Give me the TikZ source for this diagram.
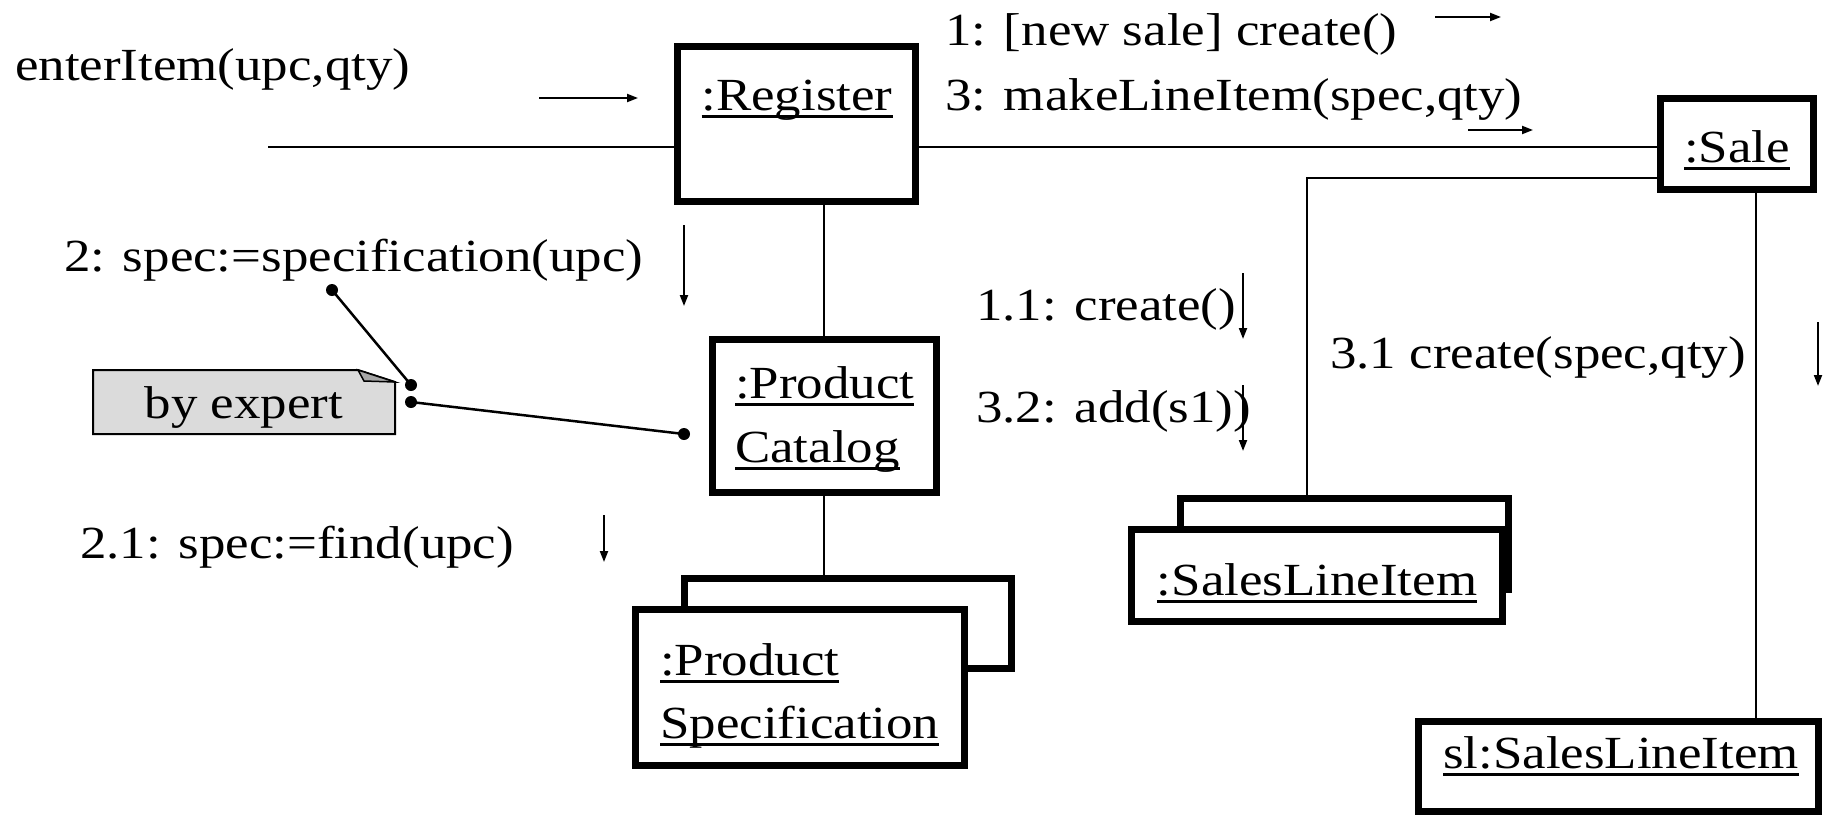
\documentclass[tikz,border=0pt]{standalone}
\usepackage{fontspec}
\setmainfont{Liberation Serif}[FakeStretch=1.15]
\usetikzlibrary{arrows.meta}
\newcommand\myul[1]{\setbox0\hbox{#1}\rlap{\rule[-8pt]{\wd0}{2.8pt}}\box0}
\begin{document}
\begin{tikzpicture}[x=1pt,y=-1pt,
  txt/.style={inner sep=0pt, font=\fontsize{46}{54}\selectfont},
  obj/.style={draw, line width=7pt, fill=white, inner sep=0pt},
  conn/.style={line width=2.5pt},
  vconn/.style={line width=2pt},
  msg/.style={line width=2pt, -{Triangle[length=11pt,width=8pt]}},
  dotn/.style={circle, fill, inner sep=0pt, minimum size=12pt},
  notebox/.style={draw, line width=2pt, fill=black!14}]
\useasboundingbox (0,0) rectangle (1825,815);

% object boxes
\node[obj, minimum width=238pt, minimum height=155pt] (reg) at (796.5,124) {};
\node[obj, minimum width=153pt, minimum height=91pt] (sale) at (1737,144) {};
\node[obj, minimum width=224pt, minimum height=153pt] (pc) at (824.5,416) {};
\node[obj, minimum width=327pt, minimum height=90pt] (psb) at (848,623.5) {};
\node[obj, minimum width=329pt, minimum height=156pt] (psf) at (800,687.5) {};
\node[obj, minimum width=328pt, minimum height=91pt] (slib) at (1344.5,544) {};
\node[obj, minimum width=371pt, minimum height=92pt] (slif) at (1317,575.5) {};
\node[obj, minimum width=400pt, minimum height=90pt] (sl) at (1618.5,766.5) {};

% object names
\node[txt, anchor=base] (tReg) at (797,110) {\myul{:Register}};
\node[txt, anchor=base] (tSale) at (1737,162) {\myul{:Sale}};
\node[txt, anchor=base west] (tPC1) at (735,398) {\myul{:Product}};
\node[txt, anchor=base west] (tPC2) at (735,462) {\myul{Catalog}};
\node[txt, anchor=base west] (tPS1) at (660,675) {\myul{:Product}};
\node[txt, anchor=base west] (tPS2) at (660,738) {\myul{Specification}};
\node[txt, anchor=base] (tSLI) at (1317,595) {\myul{:SalesLineItem}};
\node[txt, anchor=base] (tsl) at (1621,768) {\myul{sl:SalesLineItem}};

% links
\coordinate (ein) at (268,147);
\draw[conn] (ein) -- (ein -| reg.west);
\coordinate (rs) at (1000,147);
\draw[conn] (rs -| reg.east) -- (rs -| sale.west);
\coordinate (sk) at (1307,178);
\draw[conn] (sk -| sale.west) -- (sk) -- (sk |- slib.north);
\coordinate (sv) at (1756,400);
\draw[vconn] (sv |- sale.south) -- (sv |- sl.north);
\coordinate (pv) at (824,300);
\draw[vconn] (pv |- reg.south) -- (pv |- pc.north);
\draw[vconn] (pv |- pc.south) -- (pv |- psb.north);

% message labels
\node[txt, anchor=base west] (mEnter) at (15,80) {enterItem(upc,qty)};
\node[txt, anchor=base west] (mOne) at (945,45) {1: [new sale] create()};
\node[txt, anchor=base west] (mThree) at (945,110) {3: makeLineItem(spec,qty)};
\node[txt, anchor=base west] (mTwo) at (64,271) {2: spec:=specification(upc)};
\node[txt, anchor=base west] (mTwoOne) at (80,558) {2.1: spec:=find(upc)};
\node[txt, anchor=base west] (mOneOne) at (976,320) {1.1: create()};
\node[txt, anchor=base west] (mThreeTwo) at (976,422) {3.2: add(s1))};
\node[txt, anchor=base west] (mThreeOne) at (1330,368) {3.1 create(spec,qty)};

% message arrows
\coordinate (a0s) at (539,98);   \coordinate (a0e) at (638,98);
\coordinate (a1s) at (1435,17);  \coordinate (a1e) at (1501,17);
\coordinate (a3s) at (1468,130); \coordinate (a3e) at (1533,130);
\coordinate (a2s) at (684,225);  \coordinate (a2e) at (684,306);
\coordinate (a11s) at (1243,273); \coordinate (a11e) at (1243,339);
\coordinate (a32s) at (1243,385); \coordinate (a32e) at (1243,451);
\coordinate (a31s) at (1818,322); \coordinate (a31e) at (1818,386);
\coordinate (a21s) at (604,515);  \coordinate (a21e) at (604,562);
\draw[msg] (a0s) -- (a0e);
\draw[msg] (a1s) -- (a1e);
\draw[msg] (a3s) -- (a3e);
\draw[msg] (a2s) -- (a2e);
\draw[msg] (a11s) -- (a11e);
\draw[msg] (a32s) -- (a32e);
\draw[msg] (a31s) -- (a31e);
\draw[msg] (a21s) -- (a21e);

% note
\draw[notebox] (93,370) -- (358,370) -- (395,382) -- (395,434) -- (93,434) -- cycle;
\draw[line width=1.5pt, fill=black!35] (358,370) -- (364,381) -- (395,382) -- cycle;
\node[txt, anchor=base] (tNote) at (244,418) {by expert};

% note anchors
\node[dotn] (d1) at (332,290) {};
\node[dotn] (d2) at (411,385) {};
\node[dotn] (d3) at (411,402) {};
\node[dotn] (d4) at (684,434) {};
\draw[conn] (d1.center) -- (d2.center);
\draw[conn] (d3.center) -- (d4.center);
\end{tikzpicture}
\end{document}
